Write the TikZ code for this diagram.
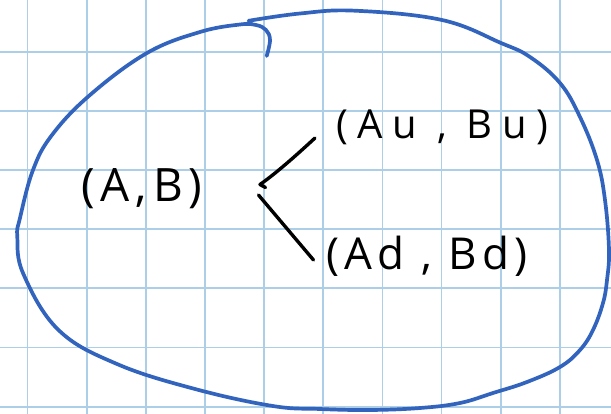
\documentclass[tikz,border=0pt]{standalone}
\usepackage{fontspec}
\setmainfont{Open Sans}
\definecolor{gridblue}{RGB}{172,206,230}
\definecolor{penblue}{RGB}{50,100,190}
\tikzset{
  gridline/.style={draw=gridblue, line width=1.8pt},
  pen/.style={draw=penblue, line width=3.7pt, line cap=round, line join=round},
  ink/.style={draw=black, line width=3.4pt, line cap=round, line join=round},
  hand/.style={inner sep=0pt, text=black}
}
\begin{document}
\begin{tikzpicture}[x=1pt, y=-1pt]
  % paper and page frame
  \fill[white] (0,0) rectangle (611,414);
  \useasboundingbox (0,0) rectangle (611,414);
  % squared paper
  \foreach \i in {0,...,9}
    \draw[gridline] ({27.5+59.15*\i},0) -- ({27.5+59.15*\i},414);
  \foreach \j in {0,...,6}
    \draw[gridline] (0,{51.7+59.15*\j}) -- (611,{51.7+59.15*\j});

  % the closed loop around everything, ending in a small hook
  \draw[pen] plot[smooth, tension=0.65] coordinates {
    (248.5,20.8) (300,13.5) (355,10.7) (442,20) (501,43) (530,57)
    (560,83) (580,117) (597,160) (605,200) (609,250) (607,280)
    (603,303) (593,330) (580,350) (560,367) (527,382) (493,393)
    (460,403) (420,408) (370,410) (320,409) (272.8,406) (195,389)
    (117,364) (58.5,330) (23.4,274) (17.3,237) (20,218) (33,170)
    (52,135) (90,95) (147,53) (200,32) (240,24.5) (256,25)
    (266,30) (270,40) (266.7,56)};

  % pairs
  \node[hand, anchor=base west,
        font=\fontsize{46}{50}\selectfont\addfontfeature{LetterSpace=13}]
        (ab) at (81,202) {(A,B)};
  \node[hand, anchor=base west,
        font=\fontsize{40}{44}\selectfont\addfontfeature{LetterSpace=24}]
        (abu) at (336,139) {(Au , Bu)};
  \node[hand, anchor=base west,
        font=\fontsize{44}{48}\selectfont\addfontfeature{LetterSpace=12}]
        (abd) at (326,270) {(Ad , Bd)};

  % branching strokes
  \coordinate (upEnd) at (315,138);
  \coordinate (upTip) at (260,184.5);
  \coordinate (upHook) at (265.5,187.5);
  \coordinate (dnStart) at (258.5,195);
  \coordinate (dnEnd) at (313.5,260);
  \draw[ink] (upEnd) .. controls (302,150) and (278,172) .. (upTip) -- (upHook);
  \draw[ink] (dnStart) -- (dnEnd);
\end{tikzpicture}
\end{document}
